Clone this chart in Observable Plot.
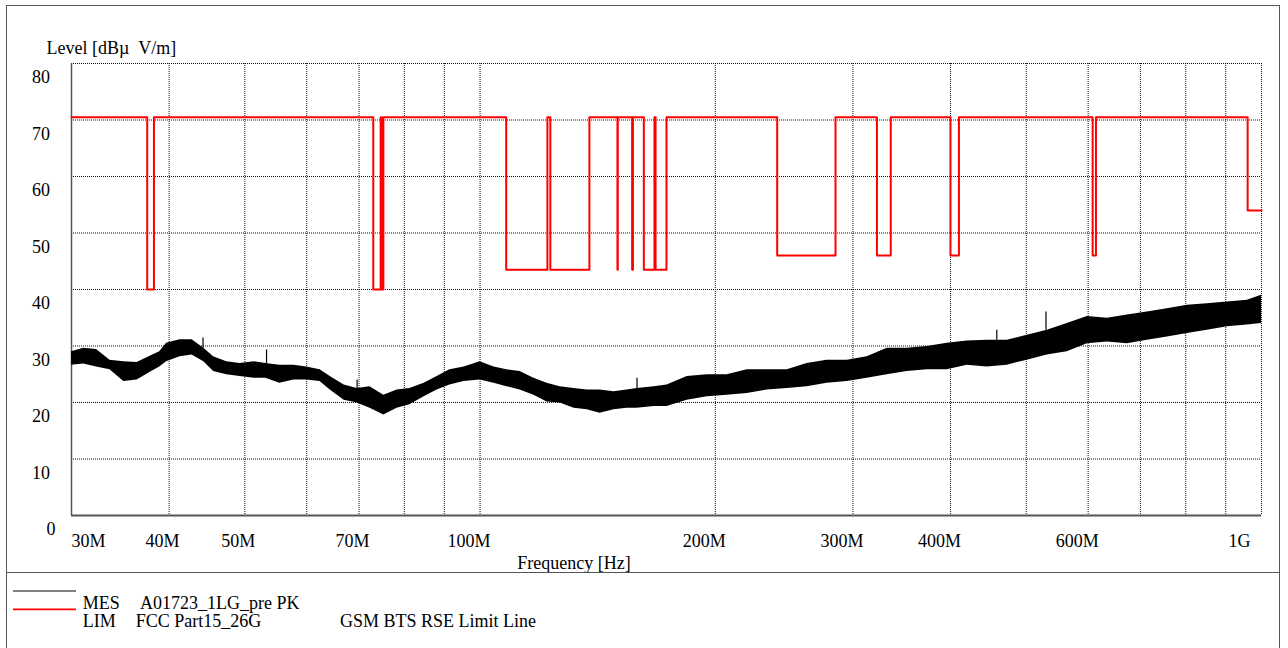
<!DOCTYPE html>
<html><head><meta charset="utf-8">
<script src="https://cdn.jsdelivr.net/npm/d3@7"></script>
<script src="https://cdn.jsdelivr.net/npm/@observablehq/plot@0.6"></script>
<style>
html,body{margin:0;padding:0;background:#fff;overflow:hidden;width:1288px;height:648px}
#frame{position:absolute;left:6px;top:5px;width:1274px;height:660px;border:1px solid #555;box-sizing:border-box}
#chart{position:absolute;left:7px;top:6px}
#divider{position:absolute;left:7px;top:572px;width:1272px;height:1px;background:#555}
#legend{position:absolute;left:0;top:0;pointer-events:none}
</style></head><body>
<div id="frame"></div>
<div id="chart"></div>
<div id="divider"></div>
<svg id="legend" width="1288" height="648" font-family="Liberation Serif, Times New Roman, serif" font-size="18"></svg>
<script>
// ---- Measurement trace envelope (MHz, dBµV/m) ----
const traceFreq = [30.0,31.1,32.3,33.6,35.0,36.4,37.7,38.9,39.7,41.3,42.8,44.3,45.6,47.4,49.3,51.4,53.2,55.4,57.8,60.0,62.4,64.3,67.0,69.6,72.3,75.3,78.3,81.3,84.8,88.1,91.5,95.4,100.0,104.2,108.2,112.5,117.2,121.8,126.6,131.9,137.1,142.4,148.4,154.2,158.8,167.0,173.5,184.1,195.3,207.1,219.7,233.0,247.2,262.1,278.0,295.0,312.9,331.9,352.0,373.4,396.1,420.1,445.6,472.7,501.4,531.8,564.1,598.6,635.0,673.5,714.3,757.7,803.6,852.5,904.3,959.1,1000];
const traceLo = [26.6,26.8,26.3,25.8,23.7,24.0,25.2,26.3,27.2,28.1,28.4,27.2,25.5,24.9,24.6,24.3,24.3,23.4,24.0,24.0,23.7,22.2,20.4,19.9,19.0,17.8,19.0,19.6,21.0,22.2,23.1,23.7,24.0,23.4,22.8,22.2,21.3,20.1,19.9,19.0,18.7,18.1,18.7,19.0,19.0,19.3,19.3,20.4,21.0,21.3,21.6,22.2,22.5,22.8,23.4,23.7,24.3,24.9,25.5,25.8,25.8,26.6,26.3,26.6,27.5,28.4,29.0,30.4,30.7,30.4,31.0,31.6,32.2,32.8,33.4,33.7,34.0];
const traceHi = [29.0,29.6,29.4,27.5,27.2,27.1,28.1,29.0,30.5,31.1,31.1,29.6,28.1,27.2,26.9,27.2,26.9,26.6,26.6,26.3,25.8,24.6,23.1,22.5,22.8,21.3,22.2,22.5,23.4,24.6,25.8,26.3,27.2,26.3,25.8,25.5,24.3,23.4,22.8,22.5,22.2,22.2,21.9,22.2,22.5,22.8,23.1,24.6,24.9,24.9,25.8,25.8,25.8,26.9,27.5,27.5,28.1,29.6,29.6,29.9,30.5,30.9,31.0,31.0,31.9,32.8,34.0,35.2,34.9,35.5,36.0,36.6,37.2,37.5,37.8,38.1,39.0];
// isolated peaks above the envelope
const spikeFreq = [44.2,53.3,69.6,158.8,458.4,529.9];
const spikeBase = [29.6,26.9,22.5,22.5,31.0,32.8];
const spikePeak = [31.4,29.3,24.0,24.3,32.8,36.0];

// ---- Limit line breakpoints (step after) ----
const limitFreq = [30,37.5,38.25,73,74.6,74.8,75.2,108,121.94,123,138,149.9,150.05,156.52475,156.52525,156.7,156.9,162.0125,167.17,167.72,173.2,240,285,322,335.4,399.9,410,608,614,960,1000];
const limitLevel = [70.5,40,70.5,40,70.5,40,70.5,43.5,70.5,43.5,70.5,43.5,70.5,43.5,70.5,43.5,70.5,43.5,70.5,43.5,70.5,46,70.5,46,70.5,46,70.5,46,70.5,54,54];

// ---- Axes ----
const xGrid = [40,50,60,70,80,90,100,200,300,400,500,600,700,800,900,1000];
const yGrid = [10,20,30,40,50,60,70,80];
const xTickValues = [30,40,50,70,100,200,300,400,600,1000];
const xTickLabels = ["30M","40M","50M","70M","100M","200M","300M","400M","600M","1G"];
const yTickValues = [10,20,30,40,50,60,70,80];
const yLabel = "Level [dBµ\u00a0\u00a0V/m]";
const xLabel = "Frequency [Hz]";

// ---- Legend ----
const legendCodes = ["MES","LIM"];
const legendNames = ["A01723_1LG_pre PK","FCC Part15_26G"];
const legendNotes = ["","GSM BTS RSE Limit Line"];
const legendColors = ["#000000","#ff0000"];

const trace = traceFreq.map((f,i)=>({f, lo: traceLo[i], hi: traceHi[i]}));
const spikes = spikeFreq.map((f,i)=>({f, base: spikeBase[i], peak: spikePeak[i]}));
const limit = limitFreq.map((f,i)=>({f, v: limitLevel[i]}));
const xTicks = xTickValues.map((v,i)=>({v, label: xTickLabels[i]}));

const font = 18;
const chart = Plot.plot({
  width: 1272, height: 566,
  marginLeft: 64, marginRight: 18, marginTop: 57, marginBottom: 57,
  style: {fontFamily: "Liberation Serif, Times New Roman, serif", fontSize: "18px", background: "transparent", overflow: "visible"},
  x: {type: "log", domain: [30, 1000], axis: null},
  y: {domain: [0, 80], axis: null},
  marks: [
    Plot.ruleX(xGrid, {x: d=>d, stroke: "#111", strokeDasharray: "1,1", strokeWidth: 1}),
    Plot.ruleY(yGrid, {y: d=>d, stroke: "#111", strokeDasharray: "1,1", strokeWidth: 1}),
    Plot.ruleX([30], {x: d=>d, stroke: "#555", strokeWidth: 1.5}),
    Plot.ruleY([0], {y: d=>d, stroke: "#555", strokeWidth: 2}),
    Plot.areaY(trace, {x: "f", y1: "lo", y2: "hi", fill: "#000", curve: "linear"}),
    Plot.ruleX(spikes, {x: "f", y1: "base", y2: "peak", stroke: "#000", strokeWidth: 1.2}),
    Plot.line(limit, {x: "f", y: "v", stroke: "#ff0000", strokeWidth: 2, curve: "step-after"}),
    // x tick labels
    Plot.text(xTicks.slice(0,1), {x: "v", text: "label", frameAnchor: "bottom", textAnchor: "start", lineAnchor: "bottom", dy: 31, fontSize: font, fill: "#000"}),
    Plot.text(xTicks.slice(1,-1), {x: "v", text: "label", frameAnchor: "bottom", textAnchor: "end", lineAnchor: "bottom", dx: 10.5, dy: 31, fontSize: font, fill: "#000"}),
    Plot.text(xTicks.slice(-1), {x: "v", text: "label", frameAnchor: "bottom", textAnchor: "end", lineAnchor: "bottom", dx: -11, dy: 31, fontSize: font, fill: "#000"}),
    // y tick labels
    Plot.text(yTickValues, {y: d=>d, text: d=>String(d), frameAnchor: "left", textAnchor: "end", lineAnchor: "bottom", dx: -21.5, dy: 19.5, fontSize: font, fill: "#000"}),
    Plot.text([0], {y: d=>d, text: d=>String(d), frameAnchor: "left", textAnchor: "end", lineAnchor: "bottom", dx: -16, dy: 19.5, fontSize: font, fill: "#000"}),
    // axis titles
    Plot.text([yLabel], {text: d=>d, frameAnchor: "top-left", textAnchor: "start", lineAnchor: "bottom", dx: -25, dy: -9.5, fontSize: font, fill: "#000"}),
    Plot.text([xLabel], {text: d=>d, frameAnchor: "bottom", textAnchor: "start", lineAnchor: "bottom", dx: -149.3, dy: 53.3, fontSize: font, fill: "#000"})
  ]
});
document.getElementById("chart").appendChild(chart);

// legend block below the chart
const lg = d3.select("#legend");
const rowY = [609, 627.3];
const lineY = [591, 609.3];
legendCodes.forEach((c,i)=>{
  lg.append("line").attr("x1",13).attr("x2",76).attr("y1",lineY[i]).attr("y2",lineY[i])
    .attr("stroke",legendColors[i]).attr("stroke-width", i===0 ? 1 : 1.7);
  lg.append("text").attr("x",82.7).attr("y",rowY[i]).text(c);
  lg.append("text").attr("x", i===0 ? 140 : 135.7).attr("y",rowY[i]).text(legendNames[i]);
  if (legendNotes[i]) lg.append("text").attr("x",340).attr("y",rowY[i]).text(legendNotes[i]);
});
</script>
</body></html>
